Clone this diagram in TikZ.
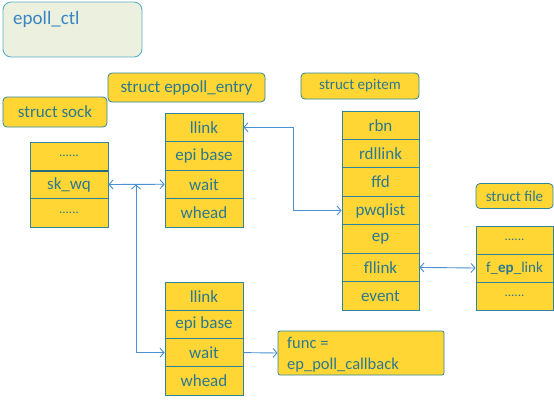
\documentclass[tikz,border=0pt]{standalone}
\usepackage{fontspec}
\setmainfont{Carlito}
\usetikzlibrary{arrows.meta}
\definecolor{yel}{HTML}{FFD633}
\definecolor{bord}{HTML}{31849B}
\definecolor{txt}{HTML}{2C7890}
\definecolor{arr}{HTML}{4A90D2}
\definecolor{ctlfill}{HTML}{EBF1DE}
\definecolor{ctlbord}{HTML}{5AAFC8}
\definecolor{ctltxt}{HTML}{3A84C4}
\tikzset{
  cell/.style={rectangle, draw=bord, fill=yel, line width=0.8pt, inner sep=0pt, text=txt, font=\fontsize{17}{17}\selectfont},
  lab/.style={rectangle, rounded corners=4pt, draw=bord, fill=yel, line width=0.8pt, inner sep=0pt, text=txt},
  conn/.style={draw=arr, line width=0.9pt, arrows={Straight Barb[length=4pt,width=9pt]-Straight Barb[length=4pt,width=9pt]}},
  connr/.style={draw=arr, line width=0.9pt, -{Straight Barb[length=4pt,width=9pt]}},
}
\begin{document}
\begin{tikzpicture}[x=1pt,y=-1pt]
\useasboundingbox (0,0) rectangle (554,408);
% epoll_ctl
\node[rectangle, rounded corners=8pt, draw=ctlbord, fill=ctlfill, line width=0.9pt, minimum width=139pt, minimum height=55pt, inner sep=0pt] (ctl) at (72.5,29.5) {};
\node[anchor=west, text=ctltxt, font=\fontsize{19}{19}\selectfont, inner sep=0pt] (ctltext) at (13,19) {epoll\_ctl};
% labels
\node[lab, minimum width=157pt, minimum height=29pt, font=\fontsize{17}{17}\selectfont] (leppoll) at (186.5,87.5) {struct eppoll\_entry};
\node[lab, minimum width=104pt, minimum height=30pt, font=\fontsize{17}{17}\selectfont] (lsock) at (55,112) {struct sock};
\node[lab, minimum width=118pt, minimum height=26pt, font=\fontsize{15}{15}\selectfont] (lepitem) at (360,86) {struct epitem};
\node[lab, minimum width=77pt, minimum height=25pt, font=\fontsize{15}{15}\selectfont] (lfile) at (514.5,196) {struct file};
% sock table
\begin{scope}[every node/.style={cell, minimum width=78pt, minimum height=28.33pt}]
\node (s1) at (69,156.2) {\fontsize{13}{13}\selectfont ......};
\node (skwq) at (69,184.5) {sk\_wq};
\node (s3) at (69,212.8) {\fontsize{13}{13}\selectfont ......};
\end{scope}
\draw[bord!80!black, line width=1.8pt] (s1.south west) -- (s1.south east);
% eppoll_entry table 1
\begin{scope}[every node/.style={cell, minimum width=78pt, minimum height=28.5pt}]
\node (allink) at (204,127.25) {llink};
\node (aepi) at (204,155.75) {epi base};
\node (await) at (204,184.25) {wait};
\node (awhead) at (204,212.75) {whead};
\end{scope}
% eppoll_entry table 2
\begin{scope}[every node/.style={cell, minimum width=78pt, minimum height=28.25pt}]
\node (bllink) at (204,296.1) {llink};
\node (bepi) at (204,324.4) {epi base};
\node (bwait) at (204,352.6) {wait};
\node (bwhead) at (204,380.9) {whead};
\end{scope}
% epitem table
\begin{scope}[every node/.style={cell, minimum width=77pt, minimum height=28.43pt}]
\node (rbn) at (380.5,125.2) {rbn};
\node (rdllink) at (380.5,153.6) {rdllink};
\node (ffd) at (380.5,182.1) {ffd};
\node (pwqlist) at (380.5,210.5) {pwqlist};
\node (ep) at (380.5,238.9) {ep};
\node (fllink) at (380.5,267.4) {fllink};
\node (event) at (380.5,295.8) {event};
\end{scope}
% file table
\begin{scope}[every node/.style={cell, minimum width=77pt, minimum height=28pt}]
\node (f1) at (514.5,240) {\fontsize{13}{13}\selectfont ......};
\node (fep) at (514.5,268) {\fontsize{15}{15}\selectfont f\_\textbf{ep}\_link};
\node (f3) at (514.5,296) {\fontsize{13}{13}\selectfont ......};
\end{scope}
% func box
\node[rectangle, rounded corners=2pt, draw=bord, fill=yel, line width=0.8pt, minimum width=166pt, minimum height=44pt, inner sep=0pt] (func) at (361,353) {};
\node[anchor=west, text=txt, font=\fontsize{16.5}{21}\selectfont, align=left, inner sep=0pt] (functext) at (287,355) {func =\\ep\_poll\_callback};
% connectors
\draw[conn] (skwq.east) -- (await.west);
\coordinate (j) at (136,184.5);
\draw[conn] (j) |- (bwait.west);
\draw[conn] (allink.east) -- ++(50,0) |- (pwqlist.west);
\draw[conn] (fllink.east) -- (fep.west);
\draw[connr] (bwait.east) -- (func.west);
\end{tikzpicture}
\end{document}
